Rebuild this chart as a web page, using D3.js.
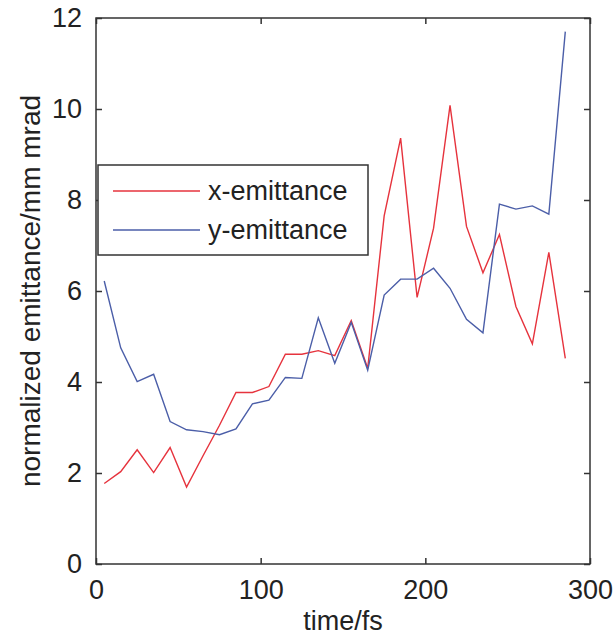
<!DOCTYPE html>
<html>
<head>
<meta charset="utf-8">
<script src="https://cdn.jsdelivr.net/npm/d3@7"></script>
<style>
  body { margin: 0; background: #fff; }
  svg text { font-family: "Liberation Sans", Arial, sans-serif; fill: #222; }
</style>
</head>
<body>
<div id="chart"></div>
<script>
// time samples (fs)
var times = [5, 15, 25, 35, 45, 55, 65, 75, 85, 95, 105, 115, 125, 135, 145,
             155, 165, 175, 185, 195, 205, 215, 225, 235, 245, 255, 265, 275, 285];

var xEmit = [1.77, 2.03, 2.51, 2.01, 2.56, 1.69, 2.38, 3.05, 3.77, 3.77, 3.9, 4.61, 4.61, 4.69, 4.58,
             5.35, 4.3, 7.65, 9.36, 5.86, 7.38, 10.08, 7.42, 6.4, 7.24, 5.66, 4.84, 6.85, 4.52];

var yEmit = [6.22, 4.75, 4.01, 4.17, 3.13, 2.95, 2.91, 2.84, 2.97, 3.52, 3.6, 4.1, 4.08, 5.41, 4.41,
             5.31, 4.26, 5.91, 6.26, 6.26, 6.5, 6.06, 5.38, 5.08, 7.91, 7.8, 7.87, 7.69, 11.7];

var seriesNames = ["x-emittance", "y-emittance"];
var seriesColors = ["#e6333d", "#4b5ea8"];
var xTicks = [0, 100, 200, 300];
var yTicks = [0, 2, 4, 6, 8, 10, 12];

var svgWidth = 614;
var svgHeight = 638;
var margin = { top: 18, right: 24, bottom: 74, left: 96 };
var width = svgWidth - margin.left - margin.right;
var height = svgHeight - margin.top - margin.bottom;

var svg = d3.select("#chart")
  .append("svg")
  .attr("width", svgWidth)
  .attr("height", svgHeight);

var chartGroup = svg.append("g")
  .attr("transform", `translate(${margin.left}, ${margin.top})`);

var xScale = d3.scaleLinear().domain([0, 300]).range([0, width]);
var yScale = d3.scaleLinear().domain([0, 12]).range([height, 0]);

// axes with inward ticks, mirrored on top/right
function styleAxis(g) {
  g.select(".domain").remove();
  g.selectAll("line").attr("stroke", "#333").attr("stroke-width", 1.5);
  g.selectAll("text").style("font-size", "27px").attr("fill", "#222");
}

chartGroup.append("g")
  .attr("transform", `translate(0, ${height})`)
  .call(d3.axisBottom(xScale).tickValues(xTicks).tickSizeInner(-6).tickSizeOuter(0).tickPadding(16))
  .call(styleAxis);

chartGroup.append("g")
  .call(d3.axisTop(xScale).tickValues(xTicks).tickSizeInner(-6).tickSizeOuter(0).tickFormat(""))
  .call(styleAxis);

chartGroup.append("g")
  .call(d3.axisLeft(yScale).tickValues(yTicks).tickSizeInner(-6).tickSizeOuter(0).tickPadding(14))
  .call(styleAxis);

chartGroup.append("g")
  .attr("transform", `translate(${width}, 0)`)
  .call(d3.axisRight(yScale).tickValues(yTicks).tickSizeInner(-6).tickSizeOuter(0).tickFormat(""))
  .call(styleAxis);

// frame
chartGroup.append("rect")
  .attr("width", width)
  .attr("height", height)
  .attr("fill", "none")
  .attr("stroke", "#333")
  .attr("stroke-width", 1.5);

// lines
var series = [xEmit, yEmit];
var line = d3.line()
  .x((d, i) => xScale(times[i]))
  .y(d => yScale(d));

series.forEach(function(vals, k) {
  chartGroup.append("path")
    .datum(vals)
    .attr("fill", "none")
    .attr("stroke", seriesColors[k])
    .attr("stroke-width", 1.4)
    .attr("d", line);
});

// legend
var legend = chartGroup.append("g")
  .attr("transform", "translate(2, 147)");

legend.append("rect")
  .attr("width", 270)
  .attr("height", 90)
  .attr("fill", "#fff")
  .attr("stroke", "#333")
  .attr("stroke-width", 1.5);

seriesNames.forEach(function(name, k) {
  var yy = 26 + k * 39;
  legend.append("line")
    .attr("x1", 15).attr("x2", 102)
    .attr("y1", yy).attr("y2", yy)
    .attr("stroke", seriesColors[k])
    .attr("stroke-width", 1.4);
  legend.append("text")
    .attr("x", 110)
    .attr("y", yy)
    .attr("dy", "0.35em")
    .style("font-size", "27px")
    .text(name);
});

// axis labels
chartGroup.append("text")
  .attr("transform", `translate(${width / 2}, ${height + 66})`)
  .attr("text-anchor", "middle")
  .style("font-size", "27px")
  .text("time/fs");

chartGroup.append("text")
  .attr("transform", "rotate(-90)")
  .attr("x", -height / 2)
  .attr("y", -margin.left + 40)
  .attr("text-anchor", "middle")
  .style("font-size", "28px")
  .text("normalized emittance/mm mrad");
</script>
</body>
</html>
